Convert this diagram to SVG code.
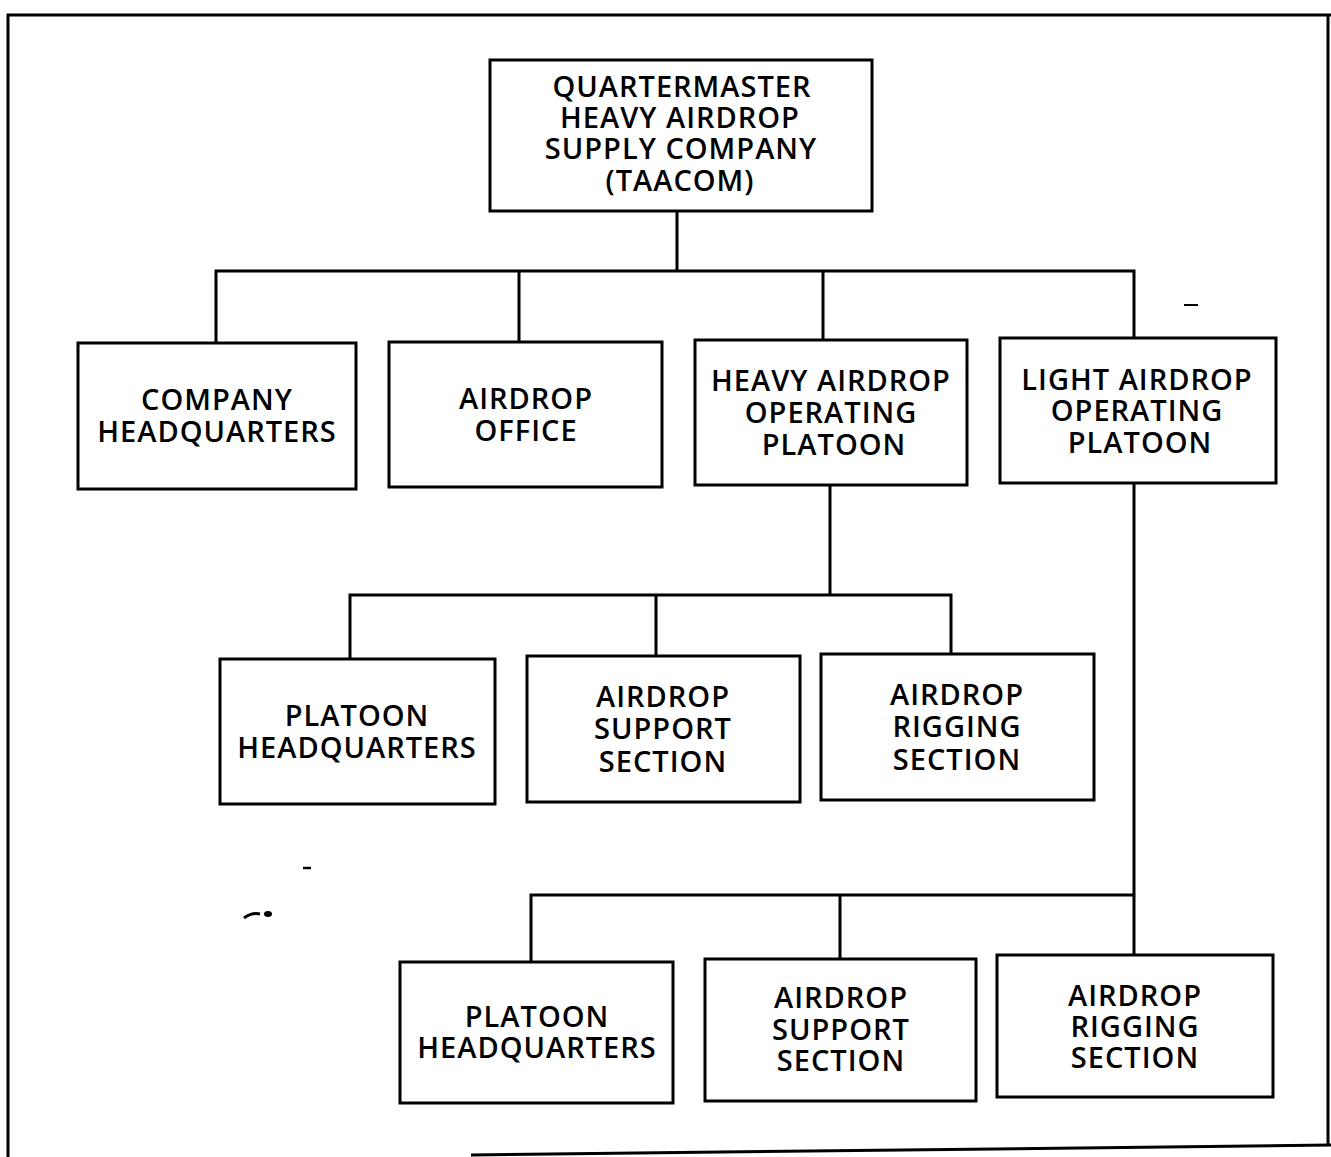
<svg xmlns="http://www.w3.org/2000/svg" width="1331" height="1157" viewBox="0 0 1331 1157">
<style>
.box{fill:#fff;stroke:#000;stroke-width:3}
.ln{fill:none;stroke:#000;stroke-width:3}
text{font-family:"Open Sans","Noto Sans",sans-serif;font-weight:600;font-size:29px;letter-spacing:1px;text-anchor:middle;fill:#000}
</style>
<rect width="1331" height="1157" fill="#fff"/>
<g id="frame">
<path class="ln" d="M8,1157 V15 H1331" stroke-width="4"/>
<path class="ln" d="M1328,15 V1146"/>
<path class="ln" d="M471,1155 L1331,1145" stroke-width="4"/>
</g>
<g id="connectors">
<path class="ln" d="M677,211 V271 M216,343 V271 H1134 V338 M519,271 V342 M823,271 V340"/>
<path class="ln" d="M830,485 V595 M350,659 V595 H951 V654 M656,595 V656"/>
<path class="ln" d="M1134,483 V895 M531,962 V895 H1134 V955 M840,895 V958"/>
</g>
<g id="marks">
<path d="M1184,305 h14" stroke="#000" stroke-width="2"/>
<path d="M303,868 h8" stroke="#000" stroke-width="2.5"/>
<path d="M244,918 q8,-6 16,-4" stroke="#000" stroke-width="3" fill="none"/>
<ellipse cx="268" cy="914" rx="4" ry="3" fill="#000"/>
</g>
<g id="n-top"><rect class="box" x="490" y="60" width="382" height="151"/>
<text x="682" y="97">QUARTERMASTER</text><text x="680" y="128">HEAVY AIRDROP</text><text x="681" y="159">SUPPLY COMPANY</text><text x="680" y="191">(TAACOM)</text></g>
<g id="n-coHQ"><rect class="box" x="78" y="343" width="278" height="146"/>
<text x="217" y="410">COMPANY</text><text x="217" y="442">HEADQUARTERS</text></g>
<g id="n-office"><rect class="box" x="389" y="342" width="273" height="145"/>
<text x="526" y="409">AIRDROP</text><text x="526" y="441">OFFICE</text></g>
<g id="n-heavy"><rect class="box" x="695" y="340" width="272" height="145"/>
<text x="831" y="391">HEAVY AIRDROP</text><text x="831" y="423">OPERATING</text><text x="834" y="455">PLATOON</text></g>
<g id="n-light"><rect class="box" x="1000" y="338" width="276" height="145"/>
<text x="1137" y="390">LIGHT AIRDROP</text><text x="1137" y="421">OPERATING</text><text x="1140" y="453">PLATOON</text></g>
<g id="n-hPHQ"><rect class="box" x="220" y="659" width="275" height="145"/>
<text x="357" y="726">PLATOON</text><text x="357" y="758">HEADQUARTERS</text></g>
<g id="n-hSup"><rect class="box" x="527" y="656" width="273" height="146"/>
<text x="663" y="707">AIRDROP</text><text x="663" y="739">SUPPORT</text><text x="663" y="772">SECTION</text></g>
<g id="n-hRig"><rect class="box" x="821" y="654" width="273" height="146"/>
<text x="957" y="705">AIRDROP</text><text x="957" y="737">RIGGING</text><text x="957" y="770">SECTION</text></g>
<g id="n-lPHQ"><rect class="box" x="400" y="962" width="273" height="141"/>
<text x="537" y="1027">PLATOON</text><text x="537" y="1058">HEADQUARTERS</text></g>
<g id="n-lSup"><rect class="box" x="705" y="959" width="271" height="142"/>
<text x="841" y="1008">AIRDROP</text><text x="841" y="1040">SUPPORT</text><text x="841" y="1071">SECTION</text></g>
<g id="n-lRig"><rect class="box" x="997" y="955" width="276" height="142"/>
<text x="1135" y="1006">AIRDROP</text><text x="1135" y="1037">RIGGING</text><text x="1135" y="1068">SECTION</text></g>
</svg>
